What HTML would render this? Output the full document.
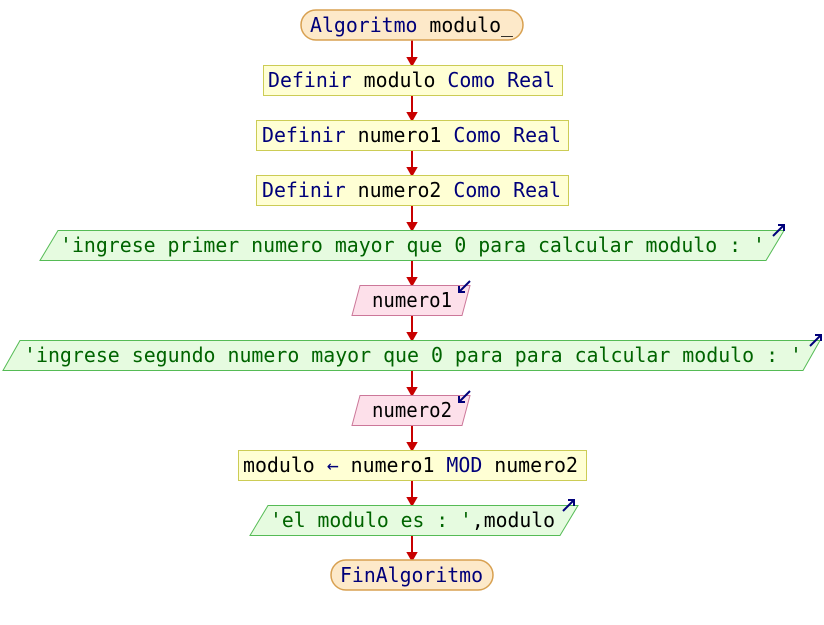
<!DOCTYPE html>
<html><head><meta charset="utf-8"><style>
html,body{margin:0;padding:0;background:#fff;width:824px;height:625px;overflow:hidden}
text{font-family:"DejaVu Sans Mono","Liberation Mono",monospace;font-size:20px}
.k{fill:#00007a}.v{fill:#000}.s{fill:#006400}
</style></head><body>
<svg width="824" height="625" viewBox="0 0 824 625" xmlns="http://www.w3.org/2000/svg">
<g stroke="#c80000" stroke-width="2" fill="none">
<line x1="412" y1="40" x2="412" y2="64"/><path d="M408,58 L416,58 L412,65 z" fill="#c80000"/>
<line x1="412" y1="95" x2="412" y2="119"/><path d="M408,113 L416,113 L412,120 z" fill="#c80000"/>
<line x1="412" y1="150" x2="412" y2="174"/><path d="M408,168 L416,168 L412,175 z" fill="#c80000"/>
<line x1="412" y1="205" x2="412" y2="229"/><path d="M408,223 L416,223 L412,230 z" fill="#c80000"/>
<line x1="412" y1="260" x2="412" y2="284"/><path d="M408,278 L416,278 L412,285 z" fill="#c80000"/>
<line x1="412" y1="315" x2="412" y2="339"/><path d="M408,333 L416,333 L412,340 z" fill="#c80000"/>
<line x1="412" y1="370" x2="412" y2="394"/><path d="M408,388 L416,388 L412,395 z" fill="#c80000"/>
<line x1="412" y1="425" x2="412" y2="449"/><path d="M408,443 L416,443 L412,450 z" fill="#c80000"/>
<line x1="412" y1="480" x2="412" y2="504"/><path d="M408,498 L416,498 L412,505 z" fill="#c80000"/>
<line x1="412" y1="535" x2="412" y2="559"/><path d="M408,553 L416,553 L412,560 z" fill="#c80000"/>
</g>
<rect x="301" y="10" width="222" height="30" rx="15" fill="#fde9c9" stroke="#d8a050" stroke-width="1.5"/>
<text x="310" y="32" textLength="203" lengthAdjust="spacingAndGlyphs"><tspan class="k">Algoritmo</tspan> <tspan class="v">modulo_</tspan></text>
<rect x="263.5" y="65.5" width="299" height="30" fill="#ffffd4" stroke="#cccc55"/>
<text x="268" y="87" textLength="287" lengthAdjust="spacingAndGlyphs"><tspan class="k">Definir</tspan> <tspan class="v">modulo</tspan> <tspan class="k">Como Real</tspan></text>
<rect x="256.5" y="120.5" width="312" height="30" fill="#ffffd4" stroke="#cccc55"/>
<text x="262" y="142" textLength="299" lengthAdjust="spacingAndGlyphs"><tspan class="k">Definir</tspan> <tspan class="v">numero1</tspan> <tspan class="k">Como Real</tspan></text>
<rect x="256.5" y="175.5" width="312" height="30" fill="#ffffd4" stroke="#cccc55"/>
<text x="262" y="197" textLength="299" lengthAdjust="spacingAndGlyphs"><tspan class="k">Definir</tspan> <tspan class="v">numero2</tspan> <tspan class="k">Como Real</tspan></text>
<polygon points="58,230.5 784,230.5 766,260.5 40,260.5" fill="#e6fbe0" stroke="#55bb55"/>
<text x="60" y="252" class="s" textLength="705" lengthAdjust="spacingAndGlyphs">'ingrese primer numero mayor que 0 para calcular modulo : '</text>
<path d="M773,236 L784,225 M778,225 L784,225 L784,231" stroke="#00007a" stroke-width="2" fill="none"/>
<polygon points="360,285.5 470,285.5 462,315.5 352,315.5" fill="#fde0ea" stroke="#cc7799"/>
<text x="372" y="307" class="v" textLength="80" lengthAdjust="spacingAndGlyphs">numero1</text>
<path d="M470,281 L459,292 M459,286 L459,292 L465,292" stroke="#00007a" stroke-width="2" fill="none"/>
<polygon points="20,340.5 820,340.5 803,370.5 3,370.5" fill="#e6fbe0" stroke="#55bb55"/>
<text x="24" y="362" class="s" textLength="778" lengthAdjust="spacingAndGlyphs">'ingrese segundo numero mayor que 0 para para calcular modulo : '</text>
<path d="M810,346 L821,335 M815,335 L821,335 L821,341" stroke="#00007a" stroke-width="2" fill="none"/>
<polygon points="360,395.5 470,395.5 462,425.5 352,425.5" fill="#fde0ea" stroke="#cc7799"/>
<text x="372" y="417" class="v" textLength="80" lengthAdjust="spacingAndGlyphs">numero2</text>
<path d="M470,391 L459,402 M459,396 L459,402 L465,402" stroke="#00007a" stroke-width="2" fill="none"/>
<rect x="238.5" y="450.5" width="348" height="30" fill="#ffffd4" stroke="#cccc55"/>
<text x="243" y="472" textLength="335" lengthAdjust="spacingAndGlyphs"><tspan class="v">modulo</tspan> <tspan class="k">←</tspan> <tspan class="v">numero1</tspan> <tspan class="k">MOD</tspan> <tspan class="v">numero2</tspan></text>
<polygon points="268,505.5 578,505.5 560,535.5 250,535.5" fill="#e6fbe0" stroke="#55bb55"/>
<text x="270" y="527" textLength="285" lengthAdjust="spacingAndGlyphs"><tspan class="s">'el modulo es : '</tspan><tspan class="v">,modulo</tspan></text>
<path d="M563,511 L574,500 M568,500 L574,500 L574,506" stroke="#00007a" stroke-width="2" fill="none"/>
<rect x="331" y="560" width="162" height="30" rx="15" fill="#fde9c9" stroke="#d8a050" stroke-width="1.5"/>
<text x="340" y="582" class="k" textLength="143" lengthAdjust="spacingAndGlyphs">FinAlgoritmo</text>
</svg>
</body></html>
